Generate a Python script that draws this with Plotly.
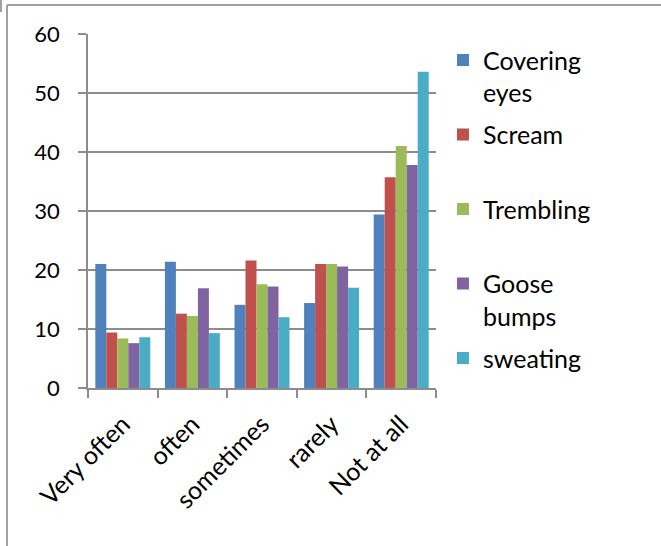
import plotly.graph_objects as go

categories = ["Very often", "often", "sometimes", "rarely", "Not at all"]

covering_eyes = [21.0, 21.4, 14.1, 14.4, 29.4]
scream = [9.4, 12.6, 21.6, 21.0, 35.7]
trembling = [8.4, 12.2, 17.6, 21.0, 41.0]
goose_bumps = [7.6, 16.9, 17.2, 20.6, 37.8]
sweating = [8.6, 9.3, 12.0, 17.0, 53.6]

series_names = ["Covering<br>eyes", "Scream<br> ", "Trembling<br> ", "Goose<br>bumps", "sweating<br> "]
series_values = [covering_eyes, scream, trembling, goose_bumps, sweating]
series_colors = ["#4F81BD", "#C0504D", "#9BBB59", "#8064A2", "#4BACC6"]

FONT = "Lato, Calibri, Carlito, sans-serif"
GRID = "#8c8c8c"

fig = go.Figure()
for i, (name, vals, color) in enumerate(zip(series_names, series_values, series_colors)):
    fig.add_trace(go.Bar(
        x=categories, y=vals, name=name, legendgroup=f"g{i}",
        marker=dict(color=color, line=dict(width=0)),
    ))

# outer frame fragments (left and top edges)
frame = dict(color="#a0a0a0", width=2)
fig.add_shape(type="line", xref="paper", yref="paper",
              x0=-0.2328, x1=-0.2328, y0=1.0819, y1=-0.4463, line=frame)
fig.add_shape(type="line", xref="paper", yref="paper",
              x0=-0.2328, x1=1.6466, y0=1.0819, y1=1.0819, line=frame)
fig.add_shape(type="line", xref="paper", yref="paper",
              x0=-0.2500, x1=-0.2500, y0=1.0960, y1=1.0620, line=frame)

fig.update_layout(
    width=661, height=546,
    margin=dict(l=88, r=225, t=34, b=158),
    paper_bgcolor="white", plot_bgcolor="white",
    font=dict(family=FONT, size=22, color="#000000"),
    barmode="group", bargap=0.21, bargroupgap=0,
    showlegend=True,
    legend=dict(
        x=1.02, xanchor="left", y=0.991, yanchor="top",
        valign="top", traceorder="grouped", tracegroupgap=6.5,
        maxheight=540,
        font=dict(family=FONT, size=25),
        bgcolor="rgba(0,0,0,0)",
    ),
    xaxis=dict(
        showgrid=False, showline=True, linecolor=GRID, linewidth=1.5,
        ticks="outside", tickson="boundaries", ticklen=8, tickcolor=GRID, tickwidth=1.5,
        tickangle=-45, ticklabelstandoff=10, tickfont=dict(family=FONT, size=25),
    ),
    yaxis=dict(
        range=[0, 60], dtick=10, showgrid=True, gridcolor=GRID, gridwidth=1.5,
        showline=True, linecolor=GRID, linewidth=1.5,
        ticks="outside", ticklen=8, tickcolor=GRID, tickwidth=1.5,
        ticklabelstandoff=14, tickfont=dict(family=FONT, size=22),
        zeroline=False,
    ),
)

fig.write_html("out.html")
